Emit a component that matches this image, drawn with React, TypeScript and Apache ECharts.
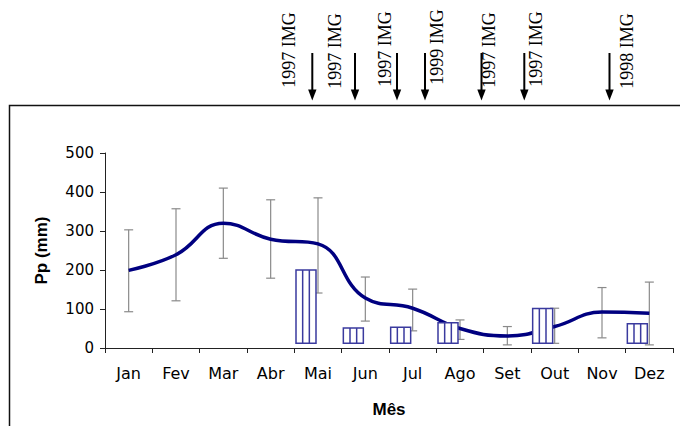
import React, { useEffect, useRef } from "react";
import * as echarts from "echarts";

// ---- data ----
const months = ["Jan", "Fev", "Mar", "Abr", "Mai", "Jun", "Jul", "Ago", "Set", "Out", "Nov", "Dez"];
const meanPp = [199, 239, 320, 279, 267, 128, 102, 50, 31, 55, 92, 89];
const errHigh = [303, 357, 410, 380, 385, 182, 151, 72, 55, 102, 155, 169];
const errLow = [93, 121, 230, 179, 141, 69, 44, 22, 8, 12, 26, 8];
const imageMonths = ["Mai", "Jun", "Jul", "Ago", "Out", "Dez"];
const imageTop = [200, 51, 53, 65, 101, 62];
const imageBase = [12, 12, 12, 12, 12, 12];
const imageLabels = ["1997 IMG", "1997 IMG", "1997 IMG", "1999 IMG", "1997 IMG", "1997 IMG", "1998 IMG"];
const yTicks = [0, 100, 200, 300, 400, 500];

// ---- layout of the overlay annotations (pixels) ----
const annotTextX = [289, 335, 384.5, 436.5, 489, 536, 626.5];
const annotTextY = [50, 51, 49, 47, 50, 49, 51];
const annotArrowX = [312.3, 355, 397, 425, 481.5, 524.3, 609.5];

export default function App() {
  const ref = useRef<HTMLDivElement>(null);

  useEffect(() => {
    document.body.style.margin = "0";
    if (!ref.current) return;
    const chart = echarts.init(ref.current, undefined, { renderer: "svg" });

    const errData = months.map((_, i) => [i, errLow[i], errHigh[i]]);
    const barData = imageMonths.map((m, i) => [months.indexOf(m), imageBase[i], imageTop[i]]);

    const graphics: any[] = [
      {
        type: "polyline",
        shape: { points: [[9.5, 430], [9.5, 105.5], [684, 105.5]] },
        style: { stroke: "#111", lineWidth: 1.5, fill: "none" },
        z: 10,
      },
    ];
    imageLabels.forEach((lab, i) => {
      const ax = annotArrowX[i];
      graphics.push({
        type: "text",
        x: annotTextX[i],
        y: annotTextY[i],
        rotation: Math.PI / 2,
        style: {
          text: lab,
          font: '18px "Liberation Serif"',
          fill: "#000",
          align: "center",
          verticalAlign: "middle",
        },
        z: 10,
      });
      graphics.push({
        type: "line",
        shape: { x1: ax, y1: 53, x2: ax, y2: 92 },
        style: { stroke: "#000", lineWidth: 2 },
        z: 10,
      });
      graphics.push({
        type: "polygon",
        shape: { points: [[ax - 4.2, 89.5], [ax + 4.2, 89.5], [ax, 100.5]] },
        style: { fill: "#000" },
        z: 10,
      });
    });

    chart.setOption({
      animation: false,
      backgroundColor: "#fff",
      grid: { left: 105, right: 7, top: 153, bottom: 78, containLabel: false },
      xAxis: {
        type: "category",
        data: months,
        boundaryGap: true,
        name: "Mês",
        nameLocation: "middle",
        nameGap: 53,
        nameTextStyle: { fontFamily: "Liberation Sans", fontWeight: "bold", fontSize: 17, color: "#000" },
        axisLine: { show: true, lineStyle: { color: "#222", width: 1 } },
        axisTick: { show: true, alignWithLabel: false, length: 5, lineStyle: { color: "#222" } },
        axisLabel: { fontFamily: "DejaVu Sans", fontSize: 16, color: "#000", margin: 17, interval: 0 },
        splitLine: { show: false },
      },
      yAxis: {
        type: "value",
        min: yTicks[0],
        max: yTicks[yTicks.length - 1],
        interval: 100,
        name: "Pp (mm)",
        nameLocation: "middle",
        nameGap: 55,
        nameTextStyle: { fontFamily: "Liberation Sans", fontWeight: "bold", fontSize: 17, color: "#000" },
        axisLine: { show: true, lineStyle: { color: "#222", width: 1 } },
        axisTick: { show: true, length: 5, lineStyle: { color: "#222" } },
        axisLabel: { fontFamily: "DejaVu Sans", fontSize: 15, color: "#000", margin: 11 },
        splitLine: { show: false },
      },
      graphic: graphics,
      series: [
        {
          type: "custom",
          name: "erro",
          z: 1,
          data: errData,
          encode: { x: 0, y: [1, 2] },
          renderItem: (params: any, api: any) => {
            const idx = api.value(0);
            const lo = api.coord([idx, api.value(1)]);
            const hi = api.coord([idx, api.value(2)]);
            const c = 4.5;
            const st = { stroke: "#8a8a8a", lineWidth: 1.2 };
            return {
              type: "group",
              children: [
                { type: "line", shape: { x1: lo[0], y1: lo[1], x2: hi[0], y2: hi[1] }, style: st },
                { type: "line", shape: { x1: hi[0] - c, y1: hi[1], x2: hi[0] + c, y2: hi[1] }, style: st },
                { type: "line", shape: { x1: lo[0] - c, y1: lo[1], x2: lo[0] + c, y2: lo[1] }, style: st },
              ],
            };
          },
        },
        {
          type: "line",
          name: "Pp",
          z: 2,
          data: meanPp,
          smooth: 0.45,
          symbol: "none",
          lineStyle: { color: "#000080", width: 3.5 },
        },
        {
          type: "custom",
          name: "IMG",
          z: 3,
          data: barData,
          encode: { x: 0, y: [1, 2] },
          renderItem: (params: any, api: any) => {
            const idx = api.value(0);
            const lo = api.coord([idx, api.value(1)]);
            const hi = api.coord([idx, api.value(2)]);
            const w = 20;
            const right = lo[0] - 2;
            const left = right - w;
            const st = { stroke: "#3a3a9e", lineWidth: 1.5 };
            return {
              type: "group",
              children: [
                {
                  type: "rect",
                  shape: { x: left, y: hi[1], width: w, height: lo[1] - hi[1] },
                  style: { fill: "#fff", stroke: "#3a3a9e", lineWidth: 1.5 },
                },
                { type: "line", shape: { x1: left + w / 3, y1: hi[1], x2: left + w / 3, y2: lo[1] }, style: st },
                { type: "line", shape: { x1: left + (2 * w) / 3, y1: hi[1], x2: left + (2 * w) / 3, y2: lo[1] }, style: st },
              ],
            };
          },
        },
      ],
    });

    return () => chart.dispose();
  }, []);

  return <div ref={ref} style={{ width: 680, height: 426 }} />;
}
